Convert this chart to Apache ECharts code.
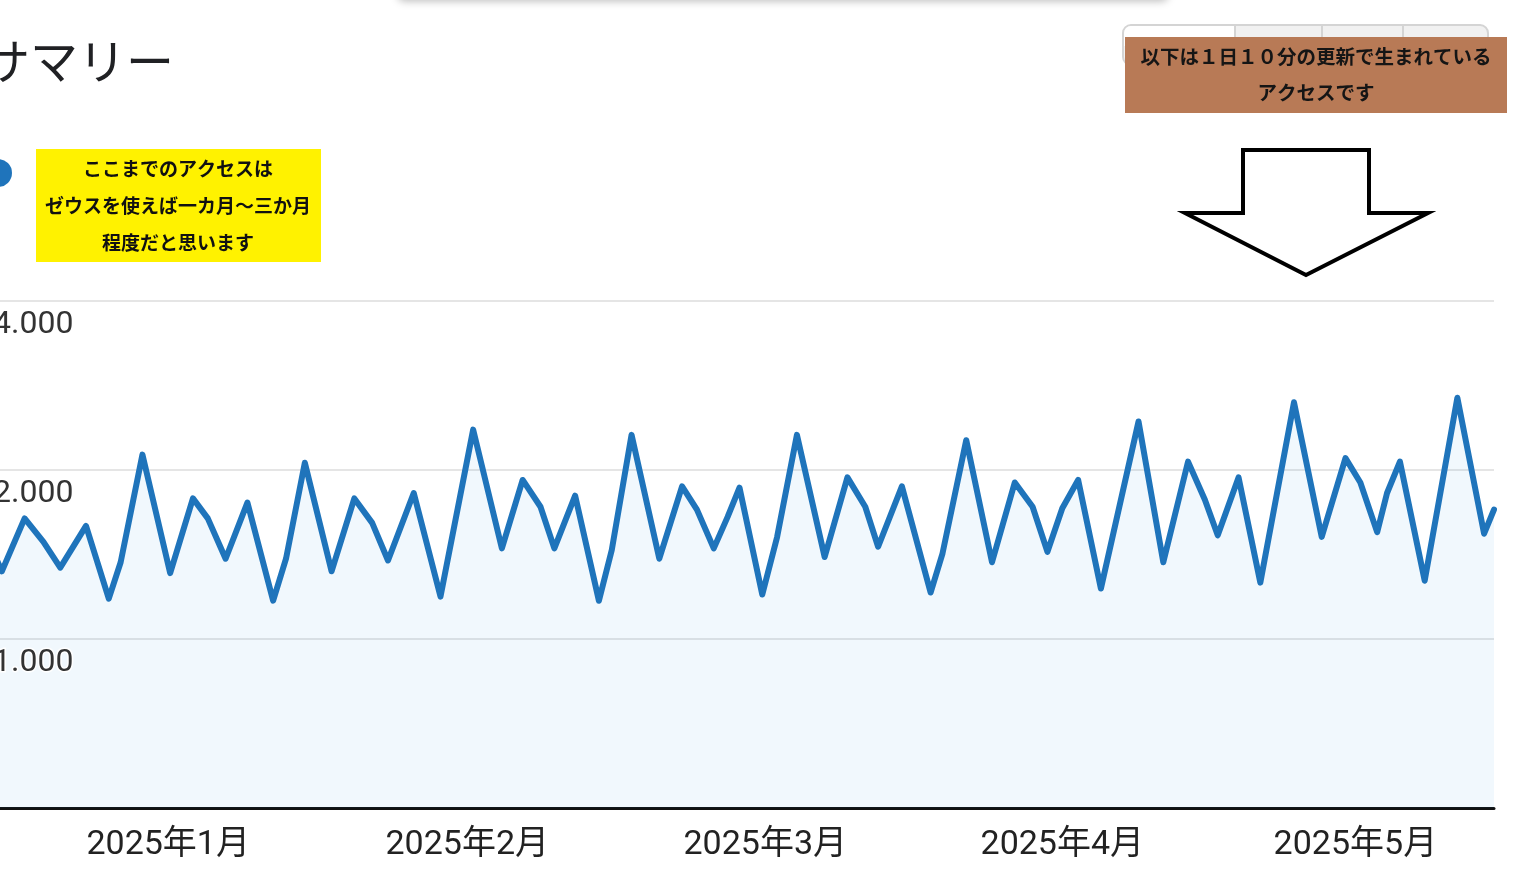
<!DOCTYPE html>
<html><head><meta charset="utf-8">
<script src="https://cdn.jsdelivr.net/npm/echarts@6/dist/echarts.min.js"></script>
<style>html,body{margin:0;padding:0;background:#fff;overflow:hidden;}#c{width:1521px;height:871px;}</style>
</head><body><div id="c"></div>
<script>
// x = day offset of each vertex, y = visits
const days = [0, 1.6, 3.9, 5.8, 7.5, 8.7, 10.1, 12.4, 13.6, 15.8, 18.6, 20.9, 22.4, 24.2, 26.4, 29.0, 30.3, 32.2, 34.9, 37.2, 39.0, 40.6, 43.2, 45.9, 49.2, 52.1, 54.2, 56.0, 57.4, 59.5, 61.9, 63.2, 65.2, 68.0, 70.3, 71.8, 73.5, 74.9, 76.1, 78.4, 79.9, 81.9, 84.7, 87.0, 88.8, 90.1, 92.5, 95.4, 96.6, 99.0, 101.6, 103.9, 105.7, 107.2, 108.7, 110.3, 112.6, 116.4, 118.9, 121.4, 123.1, 124.4, 126.5, 128.7, 132.1, 134.9, 137.3, 138.8, 140.5, 141.5, 142.8, 145.3, 148.6, 151.3, 152.3];
const visits = [1530, 1320, 1640, 1490, 1340, 1450, 1590, 1180, 1370, 2130, 1310, 1780, 1640, 1390, 1750, 1170, 1390, 2060, 1320, 1780, 1610, 1380, 1820, 1190, 2360, 1450, 1920, 1720, 1450, 1800, 1170, 1440, 2310, 1390, 1870, 1700, 1450, 1650, 1860, 1200, 1520, 2310, 1400, 1940, 1720, 1460, 1870, 1210, 1420, 2260, 1370, 1900, 1720, 1430, 1710, 1920, 1230, 2440, 1370, 2070, 1770, 1530, 1940, 1260, 2640, 1520, 2100, 1900, 1550, 1820, 2070, 1270, 2690, 1540, 1700];
const monthTickDays = [18.4, 48.6, 78.7, 108.7, 138.3];
const monthLabels = ['2025年1月', '2025年2月', '2025年3月', '2025年4月', '2025年5月'];
const yTickValues = [1000, 2000, 4000];
const yTickLabels = ['1.000', '2.000', '4.000'];
const titleText = 'サマリー';
const noteYellow = ['ここまでのアクセスは', 'ゼウスを使えば一カ月～三か月', '程度だと思います'];
const noteBrown = ['以下は１日１０分の更新で生まれている', 'アクセスです'];

const chart = echarts.init(document.getElementById('c'), null, {renderer: 'canvas'});
const yBase = {
  type: 'log', logBase: 2, min: 500, max: 4000, position: 'left', offset: 0,
  axisLine: {show: false}, axisTick: {show: false, customValues: yTickValues}
};
const option = {
  animation: false,
  backgroundColor: '#ffffff',
  grid: {left: -14, right: 27, top: 301, bottom: 63, containLabel: false, outerBoundsMode: 'none'},
  xAxis: {
    type: 'value', min: 0, max: 152.3,
    axisLine: {show: true, lineStyle: {color: '#111', width: 3}},
    axisTick: {show: false},
    splitLine: {show: false},
    axisLabel: {
      customValues: monthTickDays,
      formatter: function (v) {
        const i = monthTickDays.findIndex(function (t) { return Math.abs(t - v) < 1e-6; });
        return i >= 0 ? monthLabels[i] : '';
      },
      fontFamily: 'Roboto, "Noto Sans CJK JP"', fontSize: 34, color: '#222', margin: 21
    }
  },
  yAxis: [
    Object.assign({}, yBase, {
      axisLabel: {show: false},
      splitLine: {show: true, lineStyle: {color: '#e5e5e5', width: 2}}
    }),
    Object.assign({}, yBase, {
      z: 10,
      splitLine: {show: false},
      axisLabel: {
        show: true, inside: true, margin: 7,
        customValues: yTickValues,
        formatter: function (v) {
          const i = yTickValues.findIndex(function (t) { return Math.abs(t - v) < 1e-6; });
          return i >= 0 ? yTickLabels[i] : '';
        },
        fontFamily: 'Roboto', fontSize: 32, color: '#333',
        verticalAlign: 'top', lineHeight: 32, padding: [8, 0, 0, 0],
        textBorderColor: '#fff', textBorderWidth: 3
      }
    })
  ],
  series: [{
    type: 'line', yAxisIndex: 0,
    data: days.map(function (d, i) { return [d, visits[i]]; }),
    showSymbol: false, symbol: 'none', smooth: false,
    lineStyle: {color: '#1f74bb', width: 6, join: 'round', cap: 'round'},
    areaStyle: {color: 'rgba(30,144,230,0.09)', origin: 'start'},
    z: 3
  }],
  graphic: {elements: [
    {type: 'rect', z: 20, shape: {x: 398, y: -30, width: 770, height: 29, r: 6},
      style: {fill: '#fff', shadowBlur: 8, shadowColor: 'rgba(0,0,0,0.28)', shadowOffsetY: 2}},
    {type: 'text', z: 20, style: {text: titleText, x: -18, y: 61, fill: '#202124',
      fontSize: 48, fontFamily: '"Noto Sans CJK JP"', fontWeight: 'normal',
      textAlign: 'left', textVerticalAlign: 'middle', align: 'left', verticalAlign: 'middle'}},
    {type: 'circle', z: 20, shape: {cx: -2, cy: 173, r: 14}, style: {fill: '#1f74bb'}},
    {type: 'rect', z: 20, shape: {x: 36, y: 149, width: 285, height: 113}, style: {fill: '#fff200'}},
    {type: 'text', z: 21, style: {text: noteYellow.join('\n'), x: 178, y: 206, fill: '#111',
      fontSize: 19, fontWeight: 'bold', fontFamily: '"Noto Sans CJK JP"', lineHeight: 37,
      textAlign: 'center', textVerticalAlign: 'middle', align: 'center', verticalAlign: 'middle'}},
    {type: 'rect', z: 20, shape: {x: 1123, y: 25, width: 365, height: 40, r: 8},
      style: {fill: '#f1f1f1', stroke: '#d4d4d4', lineWidth: 2}},
    {type: 'rect', z: 20, shape: {x: 1124, y: 26, width: 111, height: 20, r: [7, 0, 0, 0]},
      style: {fill: '#fff'}},
    {type: 'line', z: 20, shape: {x1: 1235, y1: 26, x2: 1235, y2: 40}, style: {stroke: '#d4d4d4', lineWidth: 2}},
    {type: 'line', z: 20, shape: {x1: 1322, y1: 26, x2: 1322, y2: 40}, style: {stroke: '#d4d4d4', lineWidth: 2}},
    {type: 'line', z: 20, shape: {x1: 1403, y1: 26, x2: 1403, y2: 40}, style: {stroke: '#d4d4d4', lineWidth: 2}},
    {type: 'rect', z: 22, shape: {x: 1125, y: 37, width: 382, height: 76}, style: {fill: '#b87a56'}},
    {type: 'text', z: 23, style: {text: noteBrown.join('\n'), x: 1316, y: 75, fill: '#151515',
      fontSize: 19.5, fontWeight: 'bold', fontFamily: '"Noto Sans CJK JP"', lineHeight: 36,
      textAlign: 'center', textVerticalAlign: 'middle', align: 'center', verticalAlign: 'middle'}},
    {type: 'polygon', z: 20, shape: {points: [[1243, 150], [1369, 150], [1369, 213], [1428, 213], [1306, 275], [1185, 213], [1243, 213]]},
      style: {fill: '#fff', stroke: '#000', lineWidth: 4, lineJoin: 'miter'}}
  ]}
};
chart.setOption(option);
</script>
</body></html>
